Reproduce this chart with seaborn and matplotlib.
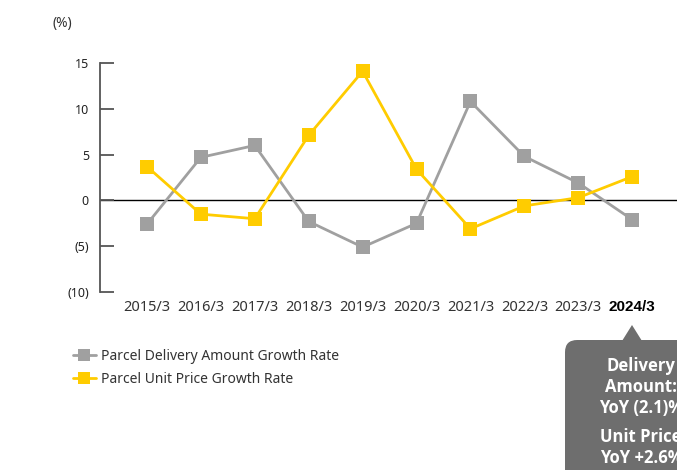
import pandas as pd
import numpy as np
import seaborn as sns
import matplotlib.pyplot as plt
from matplotlib.patches import FancyBboxPatch, Polygon
from matplotlib.lines import Line2D

# Chart data
years = ['2015/3', '2016/3', '2017/3', '2018/3', '2019/3',
         '2020/3', '2021/3', '2022/3', '2023/3', '2024/3']
delivery_growth = [-2.6, 4.7, 6.0, -2.3, -5.1, -2.5, 10.8, 4.8, 1.9, -2.1]
price_growth = [3.7, -1.5, -2.0, 7.1, 14.1, 3.4, -3.1, -0.6, 0.3, 2.6]
series_names = ['Parcel Delivery Amount Growth Rate', 'Parcel Unit Price Growth Rate']
y_ticks = [-10, -5, 0, 5, 10, 15]
y_tick_labels = ['(10)', '(5)', '0', '5', '10', '15']

gray = '#a0a0a0'
yellow = '#ffcc00'

df = pd.DataFrame({
    'Year': years * 2,
    'Rate': delivery_growth + price_growth,
    'Series': [series_names[0]] * len(years) + [series_names[1]] * len(years),
})
df['pos'] = list(range(len(years))) * 2

sns.set_style('white')
plt.rcParams['font.family'] = ['Noto Sans', 'DejaVu Sans']

fig = plt.figure(figsize=(6.77, 4.70), dpi=100)
ax = fig.add_axes([100 / 677, 1 - 292 / 470, 1 - 100 / 677, (292 - 63) / 470])

sns.lineplot(data=df, x='pos', y='Rate', hue='Series', palette=[gray, yellow],
             marker='s', markersize=9.5, markeredgewidth=0, linewidth=2,
             ax=ax, legend=False, sort=False)

ax.axhline(0, color='black', linewidth=1, zorder=0)

ax.set_xlim(-0.87, 9.83)
ax.set_ylim(-10, 15)
ax.set_xticks(range(len(years)))
ax.set_xticklabels(years, fontsize=10.5, color='#333333')
tl = ax.get_xticklabels()[-1]
tl.set_fontweight('bold')
tl.set_color('black')
tl.set_family('Liberation Sans')
tl.set_fontsize(11)
ax.set_yticks(y_ticks)
ax.set_yticklabels(y_tick_labels, fontsize=9, color='#222222')
ax.tick_params(axis='x', length=0, pad=6)
ax.tick_params(axis='y', left=True, direction='in', length=10, width=1.3,
               color='#555555', pad=8)
ax.set_xlabel('')
ax.set_ylabel('')
for s in ['top', 'right', 'bottom']:
    ax.spines[s].set_visible(False)
ax.spines['left'].set_color('#555555')
ax.spines['left'].set_linewidth(1.3)

fig.text(62 / 677, 1 - 24 / 470, '(%)', fontsize=10, color='#333333',
         ha='center', va='center')

# Legend
handles = [Line2D([], [], color=c, lw=2, marker='s', markersize=8, markeredgewidth=0)
           for c in [gray, yellow]]
fig.legend(handles, series_names, loc='upper left',
           bbox_to_anchor=(60 / 677, 1 - 336 / 470), frameon=False,
           fontsize=10, handlelength=1.7, handletextpad=0.35, labelspacing=0.6,
           labelcolor='#333333')

# Callout box
box_color = '#6e6e6e'
box = FancyBboxPatch((565 / 677, -0.1), 0.4, 0.1 + (470 - 340) / 470 - 0.0,
                     boxstyle='round,pad=0,rounding_size=0.018',
                     transform=fig.transFigure, facecolor=box_color,
                     edgecolor='none', mutation_aspect=677 / 470)
fig.add_artist(box)
tri = Polygon([(622 / 677, 1 - 341 / 470), (642 / 677, 1 - 341 / 470),
               (632 / 677, 1 - 325 / 470)], closed=True,
              transform=fig.transFigure, facecolor=box_color, edgecolor='none')
fig.add_artist(tri)

lines = [('Delivery', 366), ('Amount:', 387), ('YoY (2.1)%', 408),
         ('Unit Price', 437), ('YoY +2.6%', 458)]
for txt, py in lines:
    fig.text(641 / 677, 1 - py / 470, txt, fontsize=12, fontweight='bold',
             color='white', ha='center', va='center', family='Open Sans')

fig.savefig('out.png', dpi=100)
